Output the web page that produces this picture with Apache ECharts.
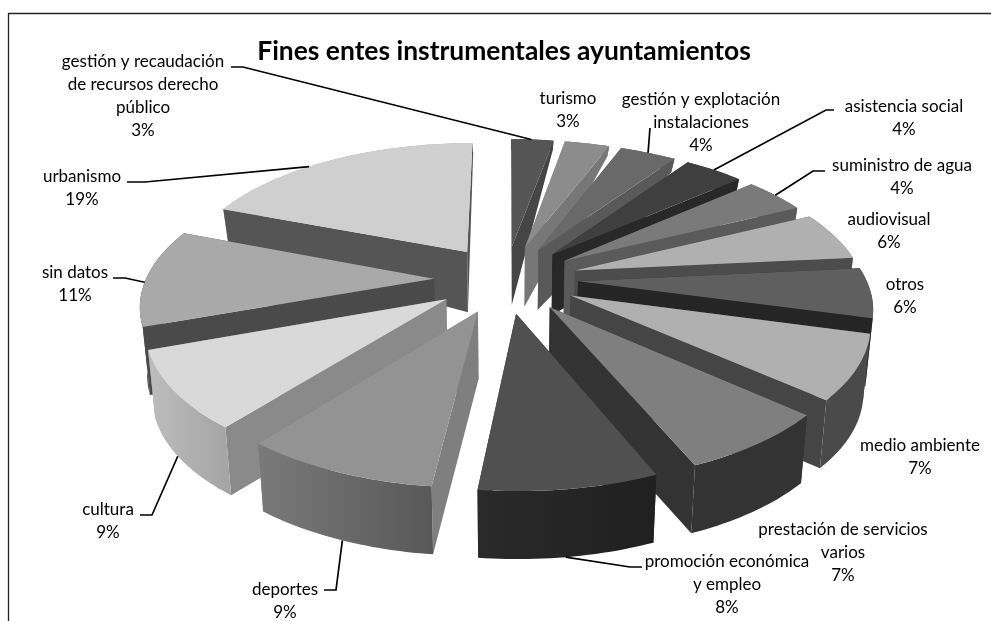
<!DOCTYPE html>
<html><head><meta charset="utf-8">
<style>html,body{margin:0;padding:0;background:#fff}#c{width:991px;height:621px}</style>
<script src="https://cdn.jsdelivr.net/npm/echarts@6/dist/echarts.min.js"></script>
</head><body><div id="c"></div>
<script>
const titleText = 'Fines entes instrumentales ayuntamientos';
const categories = ['gestión y recaudación\nde recursos derecho\npúblico','turismo','gestión y explotación\ninstalaciones','asistencia social','suministro de agua','audiovisual','otros','medio ambiente','prestación de servicios\nvarios','promoción económica\ny empleo','deportes','cultura','sin datos','urbanismo'];
const values = [3,3,4,4,4,6,6,7,7,8,9,9,11,19];

// styles
const faceColors = ['#555555','#8c8c8c','#696969','#3f3f3f','#7a7a7a','#b0b0b0','#5f5f5f','#b0b0b0','#7f7f7f','#505050','#939393','#d9d9d9','#a9a9a9','#cfcfcf'];
const wallColors = ['#454545','#777777','#595959','#282828','#5a5a5a','#4c4c4c','#252525','#454545','#333333','#333333','#7f7f7f','#8a8a8a','#4a4a4a','#555555'];
const rimFrom    = ['#444444','#666666','#555555','#333333','#555555','#888888','#4c4c4c','#4a4a4a','#333333','#2a2a2a','#7a7a7a','#bdbdbd','#444444','#aaaaaa'];
const rimTo      = ['#444444','#666666','#555555','#333333','#555555','#888888','#4c4c4c','#4a4a4a','#333333','#202020','#585858','#a4a4a4','#444444','#aaaaaa'];
// label layout: block centre
const labelX = [143,568,701,904,902,889,905,920,843,727,285,108,75,82];
const labelY = [96,110,123,118,177,231,296,457,553,585,601,521,284,188];
// leader layout: where along the slice rim it starts, whether on the lower rim, and its free end
const leaderFrac = [.5,null,.5,.5,.5,null,null,null,null,.5,.5,.55,.45,.4];
const leaderLow  = [0,0,0,0,0,0,0,0,0,1,1,1,0,0];
const leaderPath = [[[243,67],[231,67]],null,[[650,128]],[[826,110],[834,110]],[[813,171],[825,171]],null,null,null,null,[[630,567],[642,567]],[[336,590],[324,590]],[[152,515],[140,515]],[[125,278],[113,278]],[[145,182],[127,182]]];

// projection of the pie
const cx=506, cy=279, A=288, B=135, k=.165, explode=.25, warp=.05;
const total = values.reduce((a,b)=>a+b,0);
const starts = []; values.reduce((acc,v,i)=>{starts[i]=acc;return acc+v;},0);
function S(x){const t=Math.max(0,Math.min(1,x));return t*t*(3-2*t);}
function warpAngle(t){
  const d=t*180/Math.PI;
  return t-warp*Math.sin(2*t)
    +.025*S((d-5)/15)*(1-S((d-70)/25))
    -.08*S((d-70)/35)*(1-S((d-140)/50))
    +.03*S((d-190)/30)*(1-S((d-220)/30))
    -.045*S((d-260)/20)*(1-S((d-320)/35));
}
function depth(v){
  const t=Math.max(0,Math.min(1,(v+1.24)/1.34));
  return 10+58*t*t*(3-2*t);
}
function proj(u,v,low){
  const s=1/(1-k*v);
  const shrink=low?0.98:1;
  return [cx+A*u*s*shrink, cy+B*v*s+(low?depth(v):0)];
}
function sliceGeom(i){
  const t0=starts[i]/total*2*Math.PI, t1=(starts[i]+values[i])/total*2*Math.PI;
  const tm=warpAngle((t0+t1)/2);
  const ox=explode*Math.sin(tm), oy=-explode*Math.cos(tm);
  const n=Math.max(6,Math.round(values[i]*3));
  const rim=[];
  for(let j=0;j<=n;j++){const p=warpAngle(t0+(t1-t0)*j/n);rim.push([ox+Math.sin(p),oy-Math.cos(p)]);}
  return {ox,oy,rim,mid:-Math.cos(tm)};
}
const drawOrder = values.map((_,i)=>i).sort((a,b)=>sliceGeom(a).mid-sliceGeom(b).mid);

function renderItem(params){
  const i=params.dataIndex, g=sliceGeom(i), rank=drawOrder.indexOf(i)*10+1;
  const P=(q,low)=>proj(q[0],q[1],low);
  const top=g.rim.map(q=>P(q,0)), bot=g.rim.map(q=>P(q,1));
  const apex=[g.ox,g.oy];
  const kids=[];
  const rimFirst=g.mid<.2;
  [0,g.rim.length-1].forEach((e,n)=>{
    kids.push({type:'polygon',z2:rank+n+1,shape:{points:[P(apex,0),top[e],bot[e],P(apex,1)]},style:{fill:wallColors[i]}});
  });
  kids.push({type:'polygon',z2:rimFirst?rank:rank+3,shape:{points:top.concat(bot.slice().reverse())},
    style:{fill:new echarts.graphic.LinearGradient(0,0,1,0,[{offset:0,color:rimFrom[i]},{offset:1,color:rimTo[i]}])}});
  kids.push({type:'polygon',z2:rank+4,shape:{points:[P(apex,0)].concat(top)},style:{fill:faceColors[i]}});
  if(leaderPath[i]){
    const f=leaderFrac[i]*(g.rim.length-1), a=Math.floor(f), b=Math.min(a+1,g.rim.length-1), w=f-a;
    const src=leaderLow[i]?bot:top;
    const st=[src[a][0]*(1-w)+src[b][0]*w, src[a][1]*(1-w)+src[b][1]*w];
    kids.push({type:'polyline',z2:1000,shape:{points:[st].concat(leaderPath[i])},style:{fill:'none',stroke:'#000',lineWidth:1.7}});
  }
  kids.push({type:'text',z2:1001,style:{text:categories[i]+'\n'+values[i]+'%',x:labelX[i],y:labelY[i],
    align:'center',verticalAlign:'middle',font:'17px Lato',lineHeight:23,fill:'#000'}});
  return {type:'group',children:kids};
}
const chart=echarts.init(document.getElementById('c'));
chart.setOption({
  animation:false,backgroundColor:'#fff',
  title:{text:titleText,left:499,top:33,textAlign:'center',textStyle:{fontFamily:'Lato',fontWeight:'bold',fontSize:26.4,color:'#000'}},
  graphic:[{type:'polyline',z:0,shape:{points:[[8.5,640],[8.5,13.5],[1000,13.5]]},style:{fill:'none',stroke:'#222',lineWidth:1.3}}],
  series:[{type:'custom',coordinateSystem:'none',silent:true,renderItem,data:values}]
});
</script></body></html>
